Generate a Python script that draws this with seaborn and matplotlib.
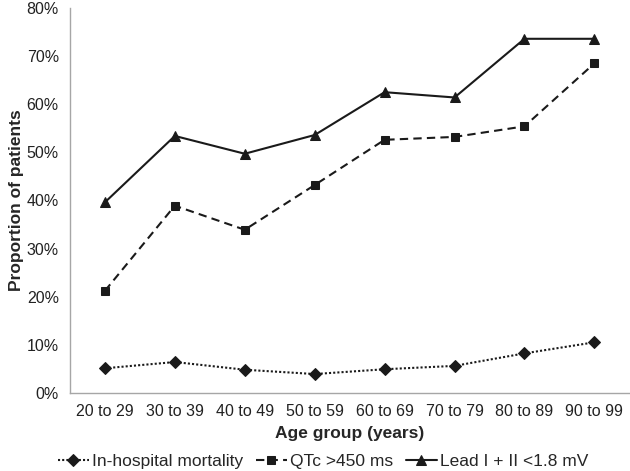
import numpy as np
import pandas as pd
import matplotlib
matplotlib.use("Agg")
import matplotlib.pyplot as plt
import seaborn as sns
from matplotlib.ticker import PercentFormatter

# ----------------------
# Data
# ----------------------
age_groups = ['20 to 29', '30 to 39', '40 to 49', '50 to 59',
              '60 to 69', '70 to 79', '80 to 89', '90 to 99']
mortality = [5.1, 6.4, 4.8, 3.9, 4.9, 5.6, 8.2, 10.5]
qtc = [21.2, 38.9, 33.9, 43.2, 52.6, 53.2, 55.4, 68.5]
lead = [39.6, 53.4, 49.7, 53.6, 62.5, 61.4, 73.6, 73.6]

series_names = ['In-hospital mortality', 'QTc >450 ms', 'Lead I + II <1.8 mV']

df = pd.DataFrame({
    'age_idx': list(range(len(age_groups))) * 3,
    'value': mortality + qtc + lead,
    'series': np.repeat(series_names, len(age_groups)),
})

# ----------------------
# Plot
# ----------------------
sns.set_style('white')
plt.rcParams['font.family'] = ['Liberation Sans', 'DejaVu Sans']

fig, ax = plt.subplots(figsize=(6.3, 4.71), dpi=100)
fig.subplots_adjust(left=0.111, right=0.999, top=0.983, bottom=0.166)

styles = {
    'In-hospital mortality': dict(ls=(0, (1, 1)), marker='D', ms=6),
    'QTc >450 ms': dict(ls=(0, (4, 2.5)), marker='s', ms=6),
    'Lead I + II <1.8 mV': dict(ls='-', marker='^', ms=7.5),
}
for name in series_names:
    st = styles[name]
    sns.lineplot(data=df[df['series'] == name], x='age_idx', y='value',
                 ax=ax, color='#1a1a1a', linewidth=1.5, linestyle=st['ls'],
                 marker=st['marker'], markersize=st['ms'],
                 markeredgecolor='#1a1a1a', label=name)

ax.set_ylim(0, 80)
ax.set_xlim(-0.5, len(age_groups) - 0.5)
ax.set_yticks(range(0, 81, 10))
ax.yaxis.set_major_formatter(PercentFormatter(decimals=0))

# category boundaries as ticks, labels in the middle
ax.set_xticks(np.arange(len(age_groups) + 1) - 0.5)
ax.set_xticklabels([])
ax.set_xticks(np.arange(len(age_groups)), minor=True)
ax.set_xticklabels(age_groups, minor=True)
ax.tick_params(axis='x', which='major', length=5, width=1, color='#a6a6a6', direction='out')
ax.tick_params(axis='x', which='minor', length=0, pad=8, labelsize=11.5, labelcolor='#222222')
ax.tick_params(axis='y', length=5, width=1, color='#a6a6a6', direction='out',
               labelsize=11.5, labelcolor='#222222', pad=3)

sns.despine(ax=ax, top=True, right=True)
for sp in ['left', 'bottom']:
    ax.spines[sp].set_color('#a6a6a6')
    ax.spines[sp].set_linewidth(1)

ax.set_xlabel('Age group (years)', fontsize=12.5, fontweight='bold', labelpad=5)
ax.set_ylabel('Proportion of patients', fontsize=12.5, fontweight='bold', labelpad=2)

handles, labels = ax.get_legend_handles_labels()
ax.get_legend().remove()
fig.legend(handles, labels, loc='center', bbox_to_anchor=(0.513, 1 - 461 / 471),
           ncol=3, frameon=False, fontsize=12.5, handlelength=1.8,
           handletextpad=0.2, columnspacing=0.7, borderaxespad=0)

fig.savefig('out.png', dpi=100)
